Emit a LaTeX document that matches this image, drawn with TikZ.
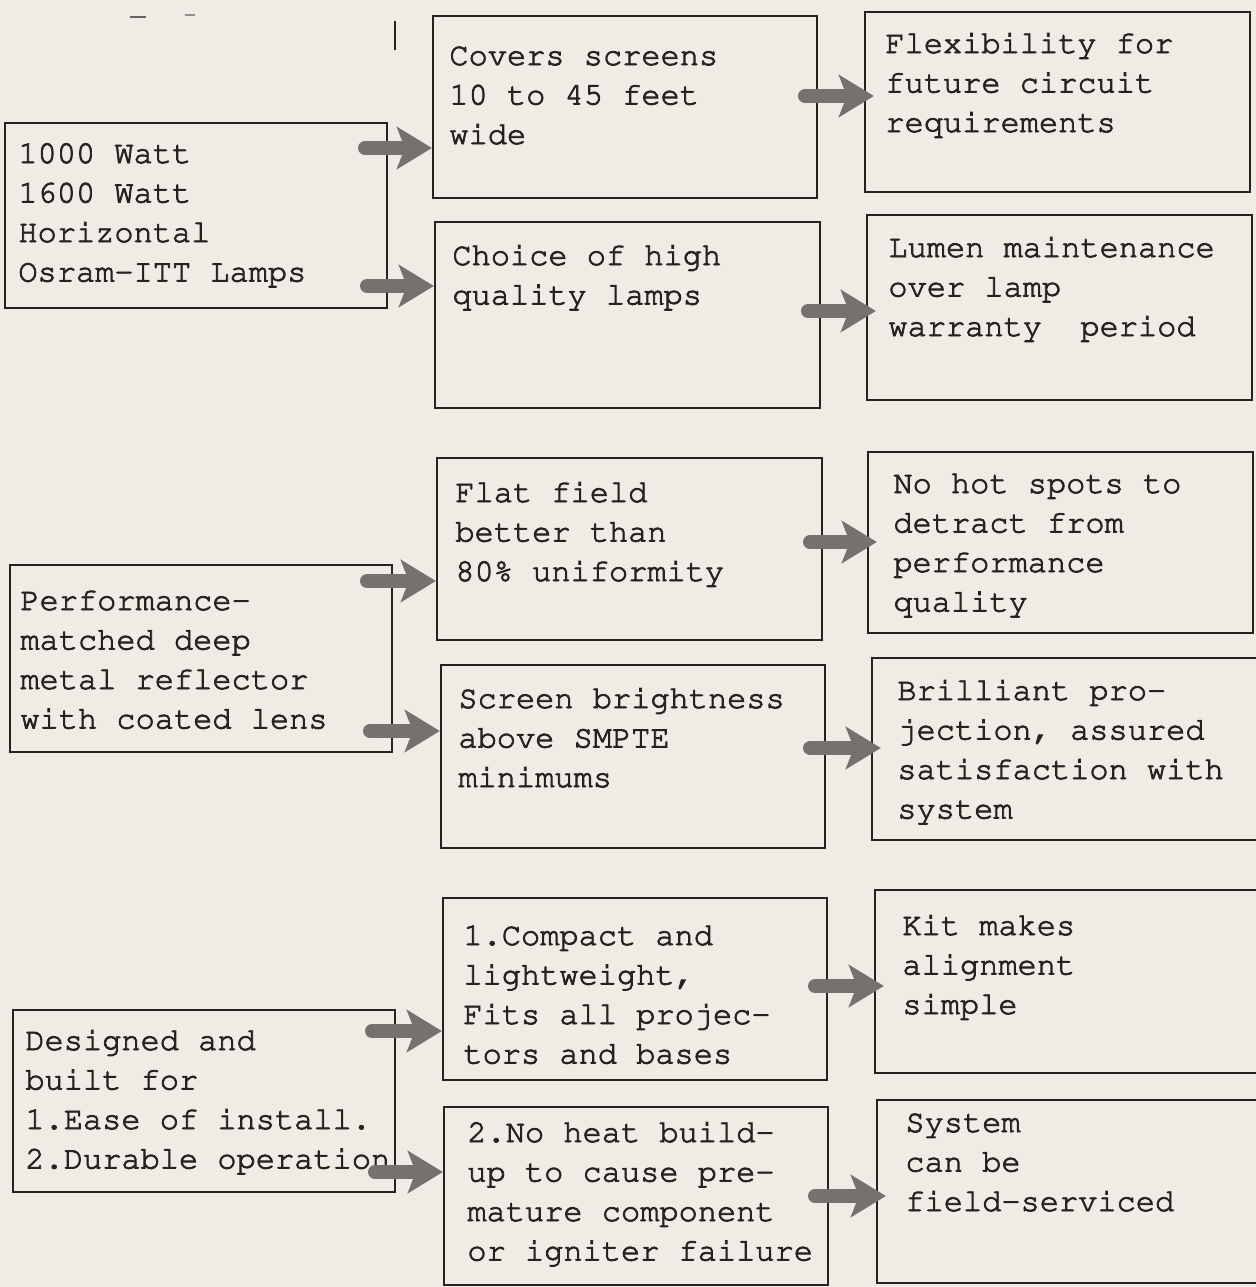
\documentclass[tikz,border=0pt]{standalone}
\usepackage[T1]{fontenc}
\usepackage{tikz}
\usetikzlibrary{arrows.meta,fit}

\definecolor{paper}{RGB}{238,236,229}
\definecolor{ink}{RGB}{38,34,32}
\definecolor{stampgray}{RGB}{118,113,111}

\newcommand{\typewr}{\fontencoding{T1}\fontfamily{pcr}\fontsize{16}{19.75}\selectfont
  \special{pdf:literal direct 2 Tr 0.4 w}}
\newcommand{\boxlines}[1]{\parbox[t]{400pt}{\raggedright #1}}

\tikzset{
  box/.style={draw=ink, line width=1.1pt, inner sep=0pt},
  txt/.style={anchor=base west, inner sep=0pt, font=\typewr, text=ink},
  stamp/.style={draw=stampgray, line width=7pt, line cap=round,
    -{Stealth[length=17.5pt,width=21pt,inset=4pt]}},
}

\begin{document}
\begin{tikzpicture}[x=0.5pt,y=-0.5pt]
\clip (0,0) rectangle (1256,1287);
\fill[paper] (0,0) rectangle (1256,1287);

%stray marks on the sheet
\draw[ink, line width=1pt] (395,21) -- (395,50);
\draw[ink!70, line width=1.2pt] (130,17) -- (146,17);
\draw[ink!50, line width=0.8pt] (185,15) -- (195,15);

%Shape: Rectangle, left column
\node[box, fit={(5,123) (387,308)}] (l1) {};
\node[box, fit={(10,565) (392,752)}] (l2) {};
\node[box, fit={(13,1010) (395,1192)}] (l3) {};
%Shape: Rectangle, middle column
\node[box, fit={(433,16) (817,198)}] (m1) {};
\node[box, fit={(435,222) (820,408)}] (m2) {};
\node[box, fit={(437,458) (822,640)}] (m3) {};
\node[box, fit={(441,665) (825,848)}] (m4) {};
\node[box, fit={(443,898) (827,1080)}] (m5) {};
\node[box, fit={(444,1107) (828,1285)}] (m6) {};
%Shape: Rectangle, right column
\node[box, fit={(865,12) (1250,192)}] (r1) {};
\node[box, fit={(867,215) (1252,400)}] (r2) {};
\node[box, fit={(868,452) (1253,633)}] (r3) {};
\node[box, fit={(872,658) (1258,840)}] (r4) {};
\node[box, fit={(875,890) (1262,1073)}] (r5) {};
\node[box, fit={(877,1100) (1262,1283)}] (r6) {};

% Text Node
\node[txt] (l1t) at (18,163) {\boxlines{1000 Watt\\1600 Watt\\Horizontal\\Osram-ITT Lamps}};
\node[txt] (l2t) at (20,610) {\boxlines{Performance-\\matched deep\\metal reflector\\with coated lens}};
\node[txt] (l3t) at (25,1050) {\boxlines{Designed and\\built for\\1.Ease of install.\\2.Durable operation}};
% Text Node
\node[txt] (m1t) at (449,65) {\boxlines{Covers screens\\10 to 45 feet\\wide}};
\node[txt] (m2t) at (452,265) {\boxlines{Choice of high\\quality lamps}};
\node[txt] (m3t) at (455,502) {\boxlines{Flat field\\better than\\80\% uniformity}};
\node[txt] (m4t) at (458,708) {\boxlines{Screen brightness\\above SMPTE\\minimums}};
\node[txt] (m5t) at (463,945) {\boxlines{1.Compact and\\lightweight,\\Fits all projec-\\tors and bases}};
\node[txt] (m6t) at (467,1142) {\boxlines{2.No heat build-\\up to cause pre-\\mature component\\or igniter failure}};
% Text Node
\node[txt] (r1t) at (885,53) {\boxlines{Flexibility for\\future circuit\\requirements}};
\node[txt] (r2t) at (888,257) {\boxlines{Lumen maintenance\\over lamp\\warranty~ period}};
\node[txt] (r3t) at (893,493) {\boxlines{No hot spots to\\detract from\\performance\\quality}};
\node[txt] (r4t) at (897,700) {\boxlines{Brilliant pro-\\jection, assured\\satisfaction with\\system}};
\node[txt] (r5t) at (902,935) {\boxlines{Kit makes\\alignment\\simple}};
\node[txt] (r6t) at (905,1132) {\boxlines{System\\can be\\field-serviced}};

%Arrows, left to middle
\coordinate (a1) at (365,148);
\coordinate (a2) at (367,286);
\coordinate (a5) at (367,581);
\coordinate (a6) at (370,731);
\coordinate (a9) at (372,1031);
\coordinate (a10) at (375,1172);
\draw[stamp] (a1) -- (a1 -| m1.west);
\draw[stamp] (a2) -- (a2 -| m2.west);
\draw[stamp] (a5) -- (a5 -| m3.west);
\draw[stamp] (a6) -- (a6 -| m4.west);
\draw[stamp] (a9) -- (a9 -| m5.west);
\draw[stamp] (a10) -- (a10 -| m6.west);
%Arrows, middle to right
\coordinate (a3) at (805,96);
\coordinate (a4) at (808,311);
\coordinate (a7) at (810,542);
\coordinate (a8) at (810,748);
\coordinate (a11) at (815,986);
\coordinate (a12) at (815,1196);
\draw[stamp] (a3) -- ([xshift=5pt]a3 -| r1.west);
\draw[stamp] (a4) -- ([xshift=5pt]a4 -| r2.west);
\draw[stamp] (a7) -- ([xshift=5pt]a7 -| r3.west);
\draw[stamp] (a8) -- ([xshift=5pt]a8 -| r4.west);
\draw[stamp] (a11) -- ([xshift=5pt]a11 -| r5.west);
\draw[stamp] (a12) -- ([xshift=5pt]a12 -| r6.west);

\end{tikzpicture}
\end{document}
